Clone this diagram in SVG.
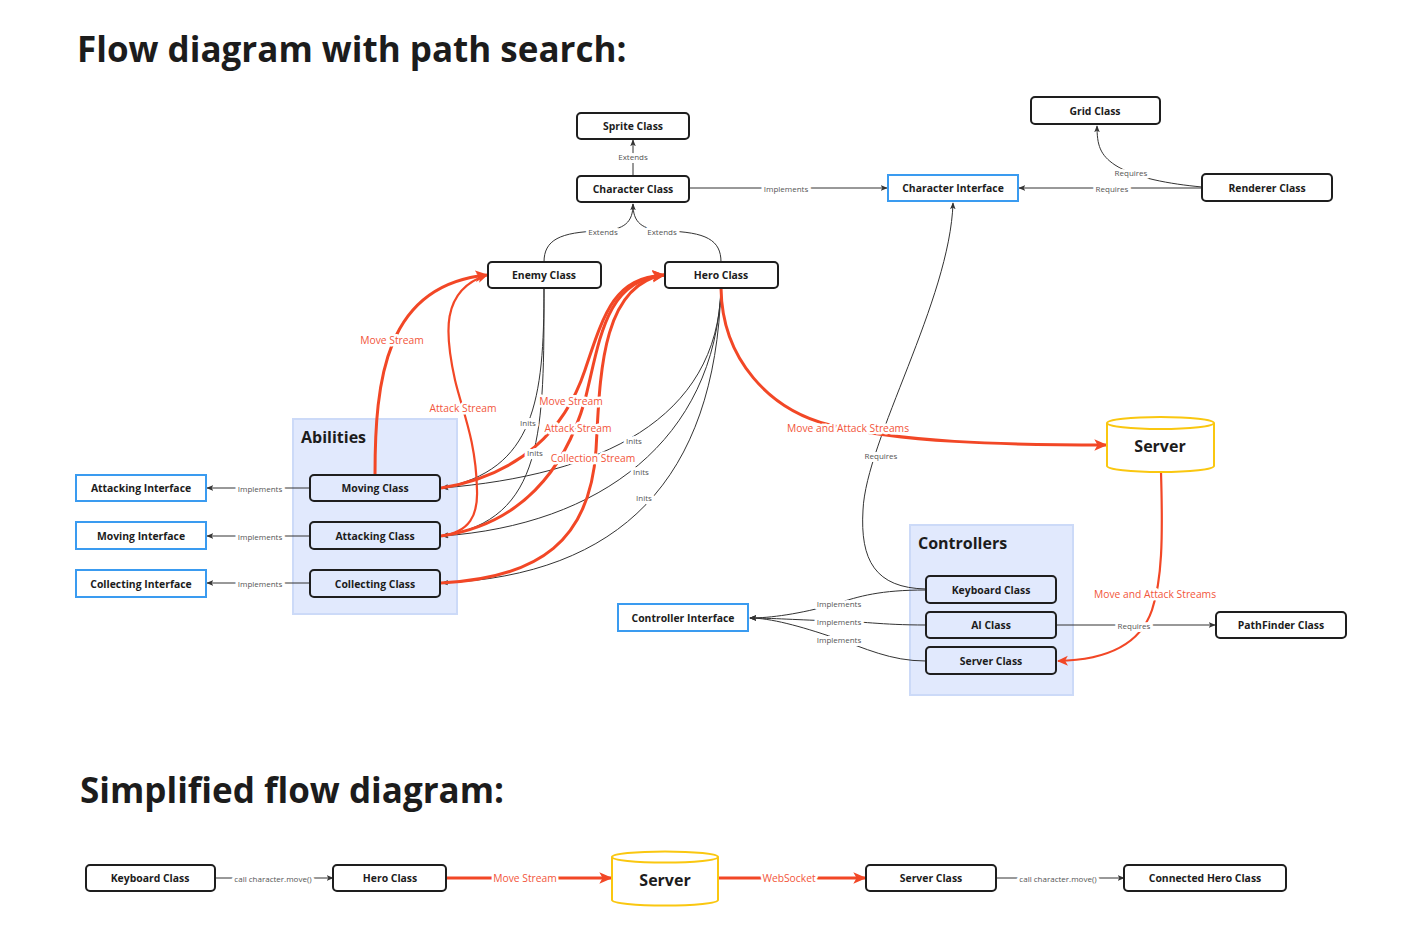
<svg xmlns="http://www.w3.org/2000/svg" width="1409" height="934" viewBox="0 0 1409 934">
<style>
.h{font-family:"Open Sans","Noto Sans",sans-serif;font-weight:700;fill:#1c1c1c;font-size:35px;}
.n{fill:#fff;stroke:#1e1e1e;stroke-width:2;}
.ni{fill:#e1e9fd;stroke:#1e1e1e;stroke-width:2;}
.i{fill:#fff;stroke:#3a9bf0;stroke-width:2;}
.g{fill:#e1e9fd;stroke:#ccdaf8;stroke-width:2;}
.cy{fill:#fff;stroke:#fac710;stroke-width:2;}
.nt{font-family:"Open Sans","Noto Sans",sans-serif;font-weight:700;font-size:10.4px;fill:#1c1c1c;text-anchor:middle;dominant-baseline:central;}
.gt{font-family:"Open Sans","Noto Sans",sans-serif;font-weight:700;font-size:16px;fill:#1c1c1c;}
.st{font-family:"Open Sans","Noto Sans",sans-serif;font-weight:700;font-size:16px;fill:#1c1c1c;text-anchor:middle;dominant-baseline:central;}
.l{fill:none;stroke:#333;stroke-width:1;}
.r{fill:none;stroke:#f24726;stroke-width:3;}
.rm{fill:none;stroke:#f24726;stroke-width:2.2;}
.lb{font-family:"Open Sans","Noto Sans",sans-serif;font-size:8px;fill:#555;text-anchor:middle;dominant-baseline:central;stroke:#fff;stroke-width:6px;paint-order:stroke;stroke-linejoin:round;}
.lr{font-family:"Open Sans","Noto Sans",sans-serif;font-size:10.3px;fill:#f2553a;text-anchor:middle;dominant-baseline:central;stroke:#fff;stroke-width:5px;paint-order:stroke;stroke-linejoin:round;}
</style>
<defs>
<marker id="ab" viewBox="0 0 10 10" refX="9" refY="5" markerWidth="7" markerHeight="7" markerUnits="userSpaceOnUse" orient="auto"><path d="M0,1 L10,5 L0,9 L2.5,5 z" fill="#333"/></marker>
<marker id="ar" viewBox="0 0 10 10" refX="9" refY="5" markerWidth="13" markerHeight="13" markerUnits="userSpaceOnUse" orient="auto"><path d="M0,0.5 L10,5 L0,9.5 L2.5,5 z" fill="#f24726"/></marker>
<marker id="arm" viewBox="0 0 10 10" refX="9" refY="5" markerWidth="11" markerHeight="11" markerUnits="userSpaceOnUse" orient="auto"><path d="M0,0.5 L10,5 L0,9.5 L2.5,5 z" fill="#f24726"/></marker>
</defs>
<rect width="1409" height="934" fill="#fff"/>

<text class="h" x="77" y="62">Flow diagram with path search:</text>
<text class="h" x="80" y="803">Simplified flow diagram:</text>

<g id="group-abilities">
<rect class="g" x="293" y="419" width="164" height="195"/>
<text class="gt" x="301" y="443">Abilities</text>
</g>
<g id="group-controllers">
<rect class="g" x="910" y="525" width="163" height="170"/>
<text class="gt" x="918" y="549">Controllers</text>
</g>

<g id="connectors">
<path class="l" d="M633,176 L633,140" marker-end="url(#ab)"/>
<path class="l" d="M689,188 L887,188" marker-end="url(#ab)"/>
<path class="l" d="M1202,188 L1019,188" marker-end="url(#ab)"/>
<path class="l" d="M1202,187 C1170,184 1135,178 1115,165 C1100,155 1097,145 1097,126" marker-end="url(#ab)"/>
<path class="l" d="M544,262 C544,240 560,232 600,231 C625,230 633,222 633,204" marker-end="url(#ab)"/>
<path class="l" d="M721,262 C721,240 706,232 666,231 C641,230 633,222 633,204"/>
<path class="l" d="M544,288 C544,400 535,470 442,488" marker-end="url(#ab)"/>
<path class="l" d="M544,288 C544,430 545,520 442,536" marker-end="url(#ab)"/>
<path class="l" d="M721,288 C718,420 600,475 442,488" marker-end="url(#ab)"/>
<path class="l" d="M721,288 C715,440 600,525 442,536" marker-end="url(#ab)"/>
<path class="l" d="M721,288 C715,480 620,575 442,583" marker-end="url(#ab)"/>
<path class="l" d="M310,488 L207,488" marker-end="url(#ab)"/>
<path class="l" d="M310,536 L207,536" marker-end="url(#ab)"/>
<path class="l" d="M310,583 L207,583" marker-end="url(#ab)"/>
<path class="l" d="M926,589 C875,588 860,560 863,510 C866,440 950,300 953,203" marker-end="url(#ab)"/>
<path class="l" d="M926,590 C880,590 860,596 835,604 C800,614 770,618 750,618" marker-end="url(#ab)"/>
<path class="l" d="M926,625 C880,625 860,621 835,621 C800,620 770,618 750,618" marker-end="url(#ab)"/>
<path class="l" d="M926,661 C890,661 865,648 835,638 C800,626 770,618 750,618" marker-end="url(#ab)"/>
<path class="l" d="M1057,625 L1215,625" marker-end="url(#ab)"/>
<path class="r" d="M375,475 C375,380 385,285 487,275" marker-end="url(#ar)"/>
<path class="rm" d="M441,536 C470,532 478,515 477,490 C476,440 462,410 455,380 C445,335 440,290 487,275" marker-end="url(#arm)"/>
<path class="r" d="M441,488 C520,475 565,430 585,370 C605,310 615,278 664,275" marker-end="url(#ar)"/>
<path class="r" d="M441,536 C520,525 565,470 585,400 C600,340 605,280 664,275" marker-end="url(#ar)"/>
<path class="r" d="M441,583 C540,578 590,540 596,450 C600,380 600,285 664,275" marker-end="url(#ar)"/>
<path class="r" d="M721,288 C722,360 770,410 830,425 C900,442 1000,445 1106,445" marker-end="url(#ar)"/>
<path class="rm" d="M1161,472 C1163,540 1162,580 1152,610 C1140,645 1105,660 1058,661" marker-end="url(#arm)"/>
<path class="l" d="M215,878 L333,878" marker-end="url(#ab)"/>
<path class="r" d="M446,878 L611,878" marker-end="url(#ar)"/>
<path class="r" d="M718,878 L865,878" marker-end="url(#ar)"/>
<path class="l" d="M996,878 L1124,878" marker-end="url(#ab)"/>
<text class="lb" x="633" y="156">Extends</text>
<text class="lb" x="786" y="188">Implements</text>
<text class="lb" x="1112" y="188">Requires</text>
<text class="lb" x="1131" y="172">Requires</text>
<text class="lb" x="603" y="231">Extends</text>
<text class="lb" x="662" y="231">Extends</text>
<text class="lb" x="528" y="422">Inits</text>
<text class="lb" x="535" y="452">Inits</text>
<text class="lb" x="634" y="440">Inits</text>
<text class="lb" x="641" y="471">Inits</text>
<text class="lb" x="644" y="497">Inits</text>
<text class="lb" x="260" y="488">Implements</text>
<text class="lb" x="260" y="536">Implements</text>
<text class="lb" x="260" y="583">Implements</text>
<text class="lb" x="881" y="455">Requires</text>
<text class="lb" x="839" y="603">Implements</text>
<text class="lb" x="839" y="621">Implements</text>
<text class="lb" x="839" y="639">Implements</text>
<text class="lb" x="1134" y="625">Requires</text>
<text class="lr" x="392" y="340">Move Stream</text>
<text class="lr" x="463" y="408">Attack Stream</text>
<text class="lr" x="571" y="401">Move Stream</text>
<text class="lr" x="578" y="428">Attack Stream</text>
<text class="lr" x="593" y="458">Collection Stream</text>
<text class="lr" x="848" y="428">Move and Attack Streams</text>
<text class="lr" x="1155" y="594">Move and Attack Streams</text>
<text class="lb" x="273" y="878">call character.move()</text>
<text class="lr" x="525" y="878">Move Stream</text>
<text class="lr" x="789" y="878">WebSocket</text>
<text class="lb" x="1058" y="878">call character.move()</text>
</g>

<g id="sprite-class"><rect class="n" x="577" y="113" width="112" height="26" rx="4"/><text class="nt" x="633" y="126">Sprite Class</text></g>
<g id="character-class"><rect class="n" x="577" y="176" width="112" height="26" rx="4"/><text class="nt" x="633" y="189">Character Class</text></g>
<g id="character-interface"><rect class="i" x="888" y="175" width="130" height="26"/><text class="nt" x="953" y="188">Character Interface</text></g>
<g id="grid-class"><rect class="n" x="1031" y="97" width="129" height="27" rx="4"/><text class="nt" x="1095" y="111">Grid Class</text></g>
<g id="renderer-class"><rect class="n" x="1202" y="174" width="130" height="27" rx="4"/><text class="nt" x="1267" y="188">Renderer Class</text></g>
<g id="enemy-class"><rect class="n" x="488" y="262" width="113" height="26" rx="4"/><text class="nt" x="544" y="275">Enemy Class</text></g>
<g id="hero-class"><rect class="n" x="665" y="262" width="113" height="26" rx="4"/><text class="nt" x="721" y="275">Hero Class</text></g>
<g id="moving-class"><rect class="ni" x="310" y="475" width="130" height="26" rx="4"/><text class="nt" x="375" y="488">Moving Class</text></g>
<g id="attacking-class"><rect class="ni" x="310" y="522" width="130" height="27" rx="4"/><text class="nt" x="375" y="536">Attacking Class</text></g>
<g id="collecting-class"><rect class="ni" x="310" y="570" width="130" height="27" rx="4"/><text class="nt" x="375" y="584">Collecting Class</text></g>
<g id="attacking-interface"><rect class="i" x="76" y="475" width="130" height="26"/><text class="nt" x="141" y="488">Attacking Interface</text></g>
<g id="moving-interface"><rect class="i" x="76" y="522" width="130" height="27"/><text class="nt" x="141" y="536">Moving Interface</text></g>
<g id="collecting-interface"><rect class="i" x="76" y="570" width="130" height="27"/><text class="nt" x="141" y="584">Collecting Interface</text></g>
<g id="server"><path class="cy" d="M1107,423 A53.5,6 0 0 1 1214,423 L1214,466 A53.5,6 0 0 1 1107,466 Z"/><path class="cy" d="M1107,423 A53.5,6 0 0 0 1214,423" fill="none"/><text class="st" x="1160" y="446">Server</text></g>
<g id="keyboard-class"><rect class="ni" x="926" y="576" width="130" height="27" rx="4"/><text class="nt" x="991" y="590">Keyboard Class</text></g>
<g id="ai-class"><rect class="ni" x="926" y="612" width="130" height="26" rx="4"/><text class="nt" x="991" y="625">AI Class</text></g>
<g id="server-class"><rect class="ni" x="926" y="647" width="130" height="27" rx="4"/><text class="nt" x="991" y="661">Server Class</text></g>
<g id="controller-interface"><rect class="i" x="618" y="604" width="130" height="27"/><text class="nt" x="683" y="618">Controller Interface</text></g>
<g id="pathfinder-class"><rect class="n" x="1216" y="612" width="130" height="26" rx="4"/><text class="nt" x="1281" y="625">PathFinder Class</text></g>

<g id="s-keyboard-class"><rect class="n" x="86" y="865" width="129" height="26" rx="4"/><text class="nt" x="150" y="878">Keyboard Class</text></g>
<g id="s-hero-class"><rect class="n" x="333" y="865" width="113" height="26" rx="4"/><text class="nt" x="390" y="878">Hero Class</text></g>
<g id="s-server"><path class="cy" d="M612,857 A53,5.5 0 0 1 718,857 L718,900 A53,5.5 0 0 1 612,900 Z"/><path class="cy" d="M612,857 A53,5.5 0 0 0 718,857" fill="none"/><text class="st" x="665" y="880">Server</text></g>
<g id="s-server-class"><rect class="n" x="866" y="865" width="130" height="26" rx="4"/><text class="nt" x="931" y="878">Server Class</text></g>
<g id="s-connected-hero-class"><rect class="n" x="1124" y="865" width="162" height="26" rx="4"/><text class="nt" x="1205" y="878">Connected Hero Class</text></g>
</svg>
